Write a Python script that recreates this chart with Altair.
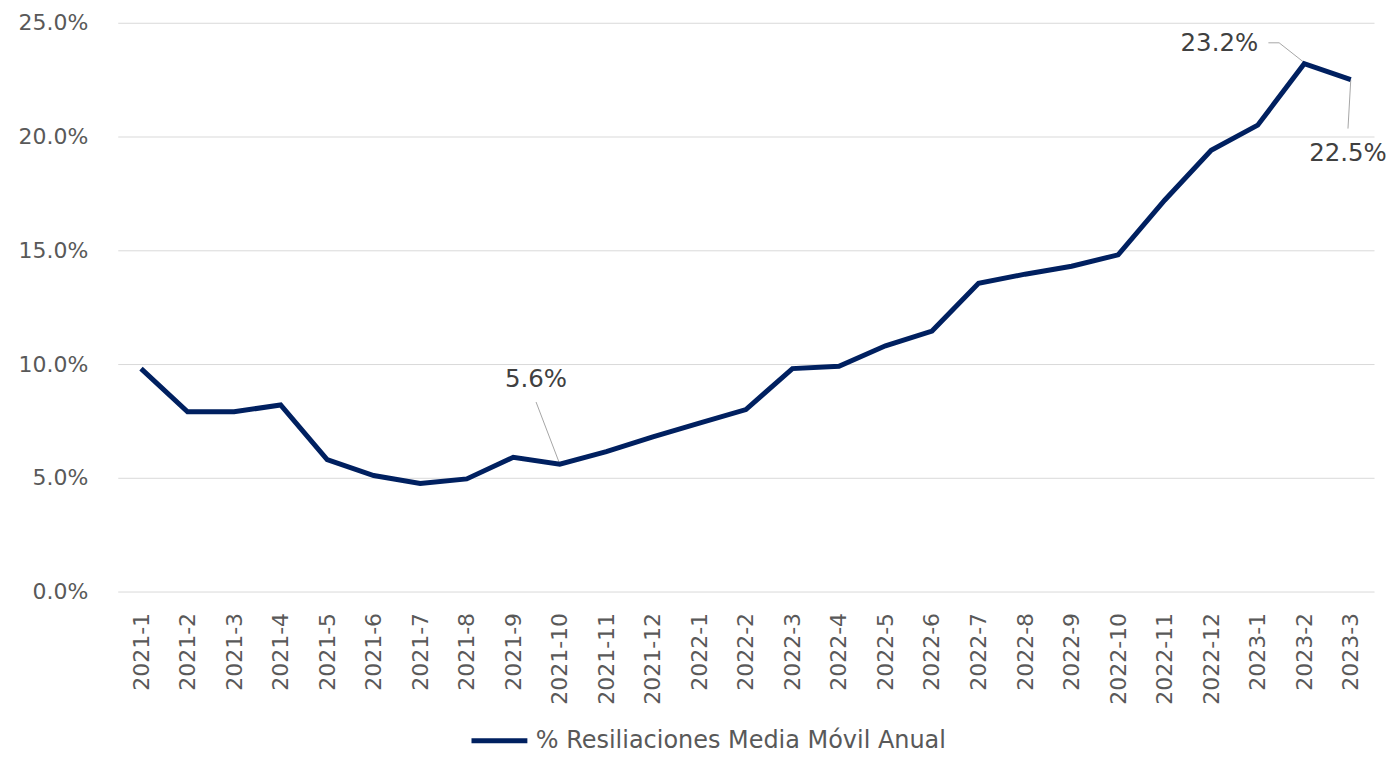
import altair as alt
import pandas as pd

categories = ["2021-1", "2021-2", "2021-3", "2021-4", "2021-5", "2021-6", "2021-7",
              "2021-8", "2021-9", "2021-10", "2021-11", "2021-12", "2022-1", "2022-2",
              "2022-3", "2022-4", "2022-5", "2022-6", "2022-7", "2022-8", "2022-9",
              "2022-10", "2022-11", "2022-12", "2023-1", "2023-2", "2023-3"]
values_pct = [9.8, 7.9, 7.9, 8.2, 5.8, 5.1, 4.75, 4.95, 5.9, 5.6, 6.15, 6.8, 7.4, 8.0,
              9.8, 9.9, 10.8, 11.45, 13.55, 13.95, 14.3, 14.8, 17.2, 19.4, 20.5, 23.2, 22.5]
series_name = "% Resiliaciones Media Móvil Anual"
y_ticks_pct = [0, 5, 10, 15, 20, 25]

# annotation labels (position in category-index / percent units)
ann_text = ["5.6%", "23.2%", "22.5%"]
ann_x = [8.49, 24.01, 25.94]
ann_y = [9.3, 24.08, 19.21]
ann_align = ["center", "right", "center"]

# leader lines: (annotation id, order, x index, y pct)
lead_id = [0, 0, 1, 1, 1, 2, 2]
lead_ord = [0, 1, 0, 1, 2, 0, 1]
lead_x = [8.49, 9.0, 24.23, 24.46, 25.0, 25.94, 26.0]
lead_y = [8.33, 5.6, 24.12, 24.12, 23.25, 20.35, 22.5]

FONT = "DejaVu Sans"
GRAY = "#595959"
NAVY = "#002060"

df = pd.DataFrame({
    "idx": list(range(len(categories))),
    "cat": categories,
    "val": [v / 100 for v in values_pct],
    "serie": [series_name] * len(categories),
})
ann_df = pd.DataFrame({
    "x": ann_x, "y": [v / 100 for v in ann_y], "t": ann_text, "a": ann_align,
})
lead_df = pd.DataFrame({
    "id": lead_id, "o": lead_ord, "x": lead_x, "y": [v / 100 for v in lead_y],
})

label_array = "[" + ",".join("'" + c + "'" for c in categories) + "]"

xscale = alt.Scale(domain=[-0.5, len(categories) - 0.5], nice=False, zero=False)
yscale = alt.Scale(domain=[0, 0.25], nice=False)

x_axis = alt.Axis(values=list(range(len(categories))), labelExpr=label_array + "[datum.value]",
                  labelAngle=-90, labelFontSize=22, labelFont=FONT, labelColor=GRAY,
                  labelPadding=21, ticks=False, domain=False, grid=False, title=None)
y_axis = alt.Axis(values=[v / 100 for v in y_ticks_pct], format=".1%", labelFontSize=22,
                  labelFont=FONT, labelColor=GRAY, labelPadding=30, ticks=False,
                  domain=False, grid=True, gridColor="#d9d9d9", gridWidth=1, title=None)

line = alt.Chart(df).mark_line(strokeWidth=5).encode(
    x=alt.X("idx:Q", scale=xscale, axis=x_axis),
    y=alt.Y("val:Q", scale=yscale, axis=y_axis),
    color=alt.Color("serie:N", scale=alt.Scale(range=[NAVY]),
                    legend=alt.Legend(title=None, orient="none", legendX=352, legendY=689,
                                      symbolType="stroke", symbolSize=3136,
                                      symbolStrokeWidth=5, labelFontSize=24,
                                      labelFont=FONT, labelColor=GRAY, labelOffset=6,
                                      labelLimit=0)),
)

leaders = alt.Chart(lead_df).mark_line(strokeWidth=1, color="#a6a6a6").encode(
    x=alt.X("x:Q", scale=xscale),
    y=alt.Y("y:Q", scale=yscale),
    detail="id:N",
    order="o:Q",
)

labels_c = alt.Chart(ann_df[ann_df["a"] == "center"]).mark_text(
    fontSize=24.5, font=FONT, color="#404040", baseline="middle", align="center").encode(
    x=alt.X("x:Q", scale=xscale), y=alt.Y("y:Q", scale=yscale), text="t:N")
labels_r = alt.Chart(ann_df[ann_df["a"] == "right"]).mark_text(
    fontSize=24.5, font=FONT, color="#404040", baseline="middle", align="right").encode(
    x=alt.X("x:Q", scale=xscale), y=alt.Y("y:Q", scale=yscale), text="t:N")

chart = alt.layer(leaders, line, labels_c, labels_r).properties(
    width=1259, height=570,
    background="white",
    autosize=alt.AutoSizeParams(type="none"),
    padding={"left": 110, "top": 14, "right": 14, "bottom": 161},
).configure_view(stroke=None)

chart.save("out.html", embed_options={"renderer": "svg", "actions": False})
